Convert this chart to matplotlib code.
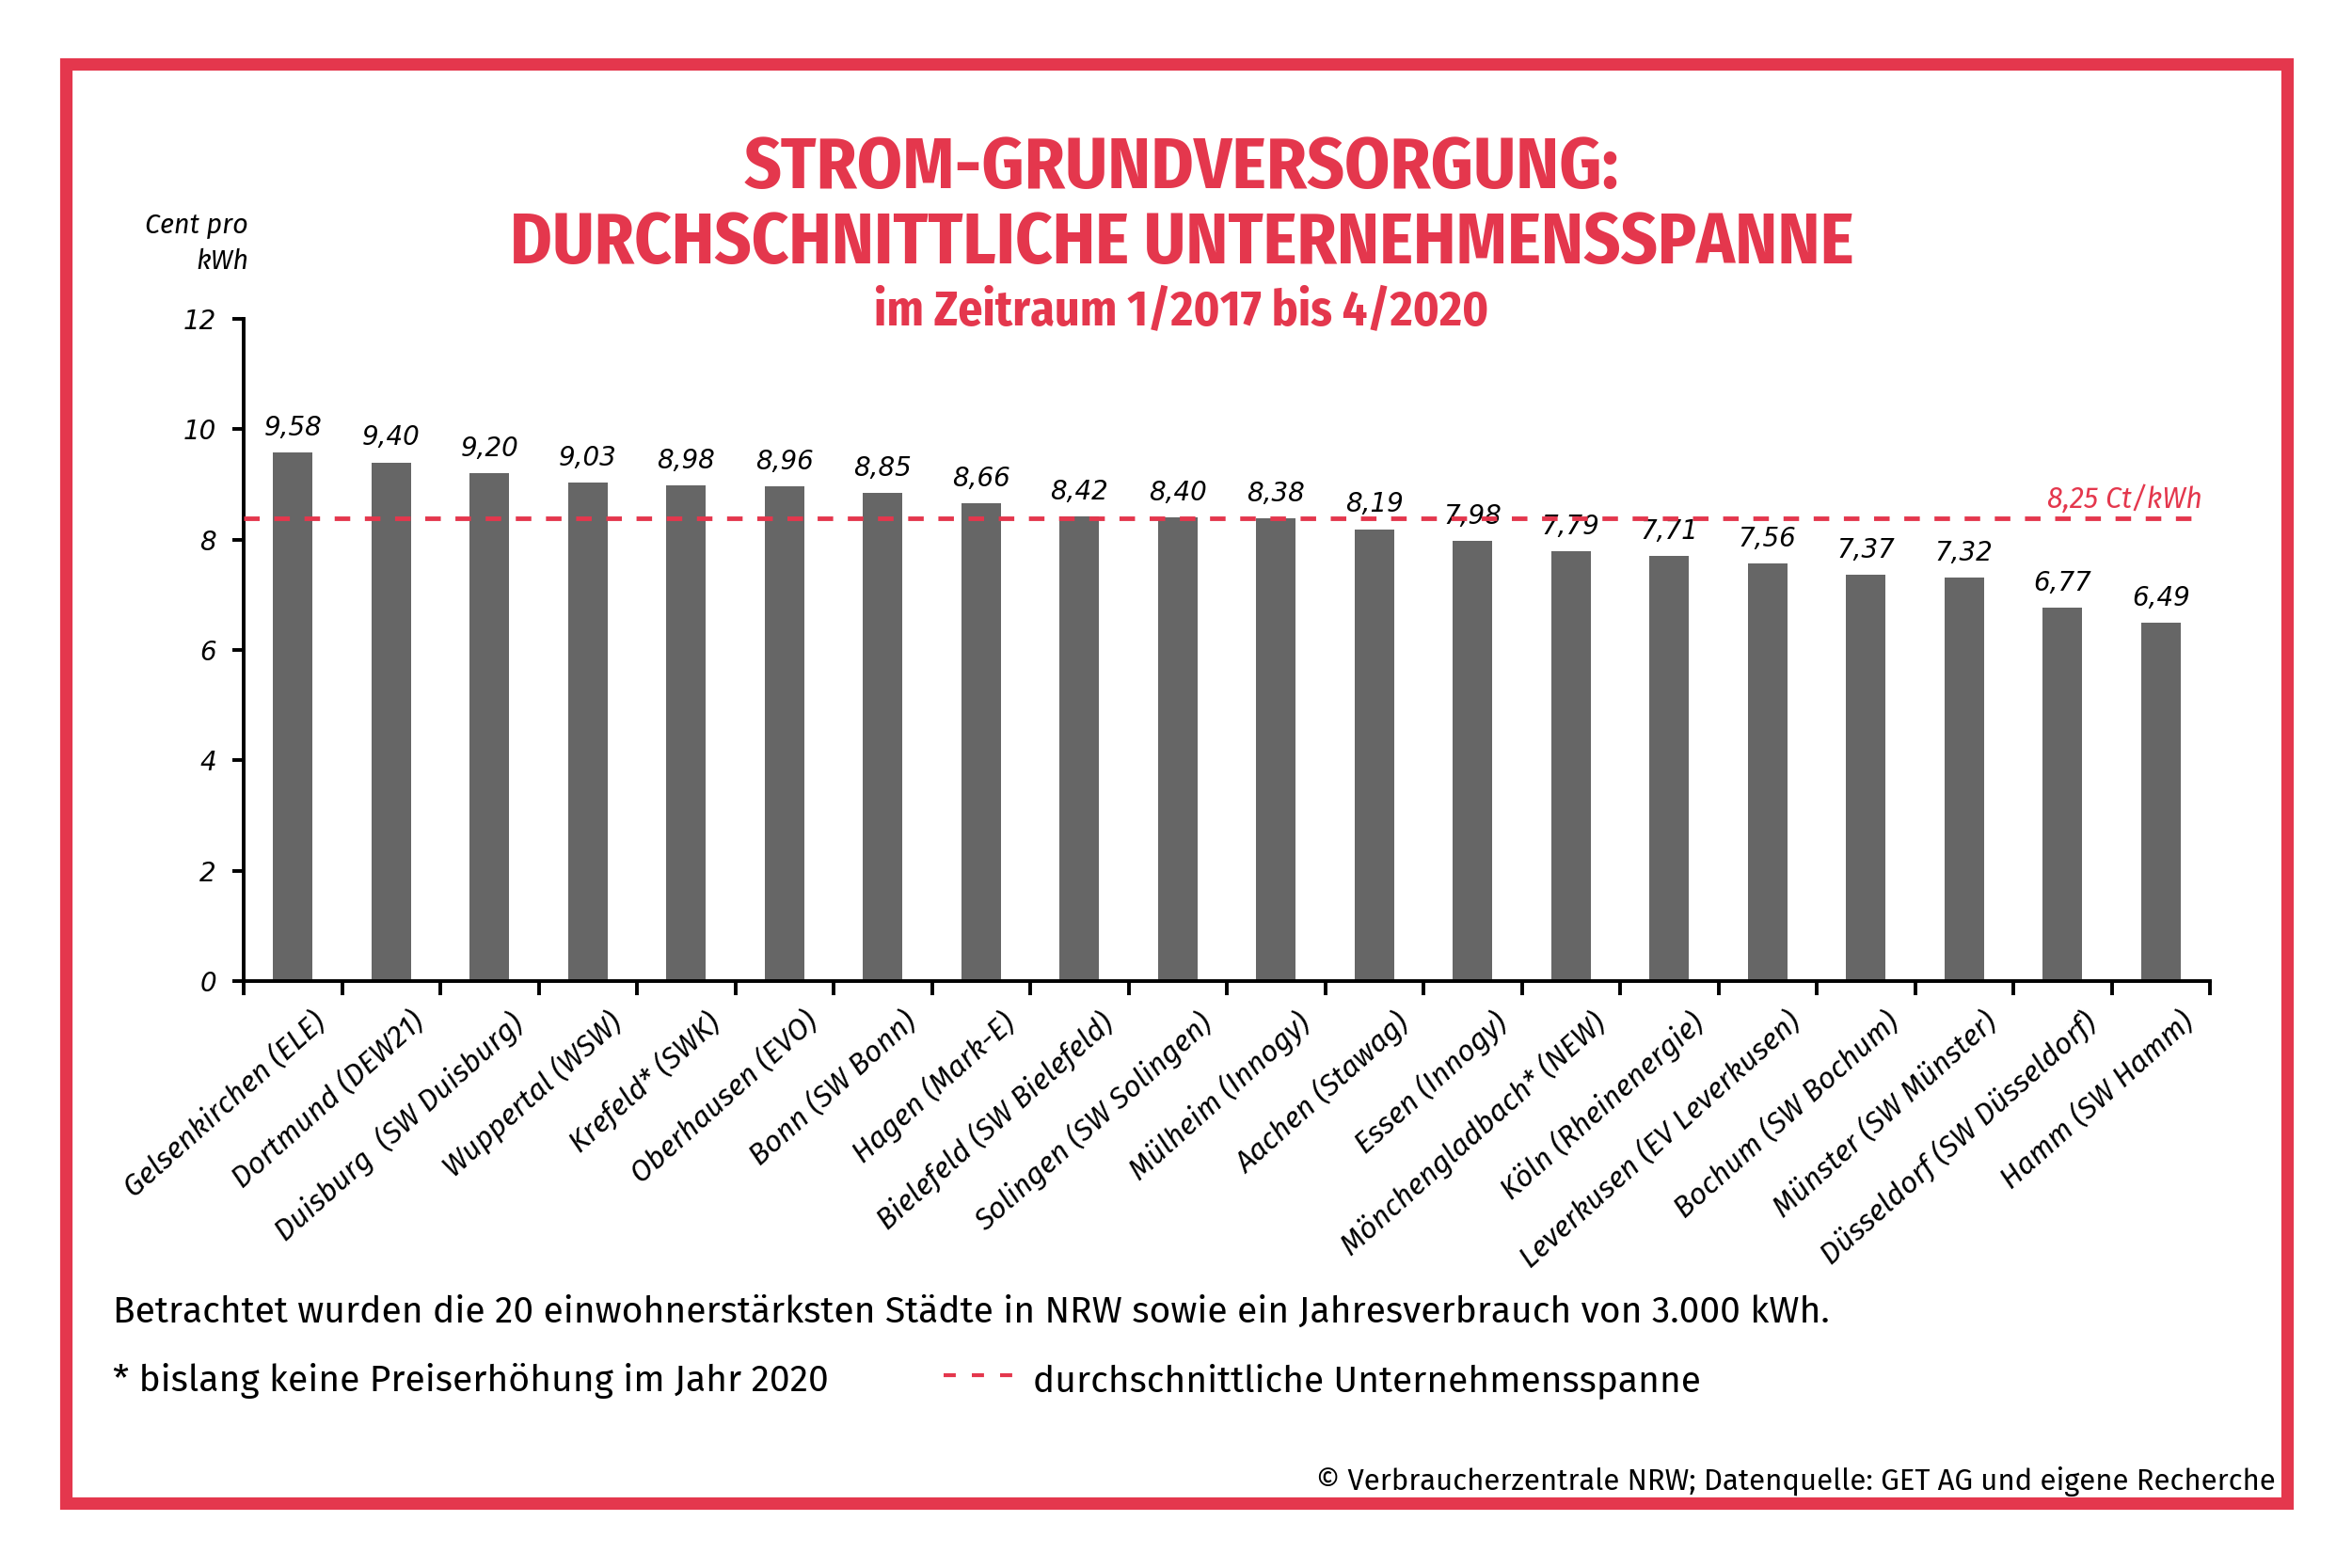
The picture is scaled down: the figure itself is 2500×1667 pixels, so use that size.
import matplotlib
matplotlib.use("Agg")
import matplotlib.pyplot as plt
from matplotlib import font_manager as fm
from matplotlib.lines import Line2D
from matplotlib.patches import Rectangle

# ---------------- data ----------------
categories = [
    "Gelsenkirchen (ELE)", "Dortmund (DEW21)", "Duisburg  (SW Duisburg)",
    "Wuppertal (WSW)", "Krefeld* (SWK)", "Oberhausen (EVO)", "Bonn (SW Bonn)",
    "Hagen (Mark-E)", "Bielefeld (SW Bielefeld)", "Solingen (SW Solingen)",
    "Mülheim (Innogy)", "Aachen (Stawag)", "Essen (Innogy)",
    "Mönchengladbach* (NEW)", "Köln (Rheinenergie)", "Leverkusen (EV Leverkusen)",
    "Bochum (SW Bochum)", "Münster (SW Münster)", "Düsseldorf (SW Düsseldorf)",
    "Hamm (SW Hamm)",
]
values = [9.58, 9.40, 9.20, 9.03, 8.98, 8.96, 8.85, 8.66, 8.42, 8.40,
          8.38, 8.19, 7.98, 7.79, 7.71, 7.56, 7.37, 7.32, 6.77, 6.49]
avg_line_value = 8.38
avg_label = "8,25 Ct/kWh"
yticks = [0, 2, 4, 6, 8, 10, 12]

title1 = "STROM-GRUNDVERSORGUNG:"
title2 = "DURCHSCHNITTLICHE UNTERNEHMENSSPANNE"
subtitle = "im Zeitraum 1/2017 bis 4/2020"
note1 = "Betrachtet wurden die 20 einwohnerstärksten Städte in NRW sowie ein Jahresverbrauch von 3.000 kWh."
note2 = "* bislang keine Preiserhöhung im Jahr 2020"
note3 = "durchschnittliche Unternehmensspanne"
source = "© Verbraucherzentrale NRW; Datenquelle: GET AG und eigene Recherche"

RED = "#E4374D"
BAR = "#666666"

installed = {f.name for f in fm.fontManager.ttflist}


def pick(*names):
    for n in names:
        if n in installed:
            return n
    return "DejaVu Sans"


F_TITLE = pick("Fira Sans Condensed", "Fira Sans Extra Condensed", "Roboto Condensed",
               "Archivo Narrow", "Roboto")
F_BODY = pick("Fira Sans", "Open Sans")
F_NUM = "DejaVu Sans"

W, H = 2500, 1667
fig = plt.figure(figsize=(W / 100, H / 100), dpi=100)
renderer = fig.canvas.get_renderer()


def fx(px):
    return px / W


def fy(py):
    return 1 - py / H


def fit(t, target_px):
    bb = t.get_window_extent(renderer)
    t.set_fontsize(t.get_fontsize() * target_px / bb.width)


# frame
fig.add_artist(Rectangle((fx(70), fy(1598)), fx(2431) - fx(70), fy(68) - fy(1598),
                         transform=fig.transFigure, fill=False, edgecolor=RED, linewidth=9.5))

# axes
ax = fig.add_axes([fx(259), fy(1043), fx(2349) - fx(259), fy(339) - fy(1043)])
x = list(range(len(values)))
ax.bar(x, values, width=0.4, color=BAR, zorder=2)
ax.set_xlim(-0.5, len(values) - 0.5)
ax.set_ylim(0, 12)
for s in ("top", "right"):
    ax.spines[s].set_visible(False)
for s in ("left", "bottom"):
    ax.spines[s].set_linewidth(2.8)
ax.set_yticks(yticks)
ax.set_yticklabels([str(v) for v in yticks], fontstyle="italic", fontsize=20, family=F_NUM)
ax.tick_params(axis="y", length=9, width=2.8, pad=12, direction="out")
ax.set_xticks([i - 0.5 for i in range(len(values) + 1)])
ax.set_xticklabels([])
ax.tick_params(axis="x", length=11, width=2.8, direction="out")

# category labels (size fitted to the reference label length)
probe = fig.text(0, 0, categories[0], fontsize=20, fontstyle="italic", family=F_BODY)
fit(probe, 277)
lab_size = probe.get_fontsize()
probe.remove()
for i, c in enumerate(categories):
    ax.annotate(c, (i, 0), xytext=(15, -20), textcoords="offset points",
                rotation=42, rotation_mode="anchor", ha="right", va="top",
                fontsize=lab_size, fontstyle="italic", family=F_BODY)

for i, v in enumerate(values):
    ax.annotate(f"{v:.2f}".replace(".", ","), (i, v), xytext=(0, 13),
                textcoords="offset points", ha="center", va="baseline",
                fontsize=20, fontstyle="italic", family=F_NUM)
ax.plot([-0.5, 19.42], [avg_line_value, avg_line_value], color=RED, lw=3.5,
        ls=(0, (3.4, 3.2)), zorder=3, clip_on=False)
t = ax.annotate(avg_label, (19.42, avg_line_value), xytext=(0, 8), textcoords="offset points",
                ha="right", va="baseline", color=RED, fontsize=20, fontstyle="italic",
                family=F_BODY)
fit(t, 165)

# y-axis unit label
t = fig.text(fx(264), fy(248), "Cent pro", ha="right", va="baseline", fontsize=20,
             fontstyle="italic", family=F_BODY)
fit(t, 110)
fig.text(fx(264), fy(286), "kWh", ha="right", va="baseline", fontsize=t.get_fontsize(),
         fontstyle="italic", family=F_BODY)

# titles
t1 = fig.text(fx(1256), fy(200), title1, ha="center", va="baseline", fontsize=52,
              fontweight="bold", color=RED, family=F_TITLE)
fit(t1, 931)
t2 = fig.text(fx(1256), fy(280), title2, ha="center", va="baseline", fontsize=52,
              fontweight="bold", color=RED, family=F_TITLE)
fit(t2, 1432)
t3 = fig.text(fx(1256), fy(346), subtitle, ha="center", va="baseline", fontsize=33,
              fontweight="bold", color=RED, family=F_TITLE)
fit(t3, 653)

# notes
t = fig.text(fx(120), fy(1406), note1, ha="left", va="baseline", fontsize=27, family=F_BODY)
fit(t, 1824)
t = fig.text(fx(120), fy(1479), note2, ha="left", va="baseline", fontsize=27, family=F_BODY)
fit(t, 760)
fig.add_artist(Line2D([fx(1003), fx(1076)], [fy(1462), fy(1462)], transform=fig.transFigure,
                      color=RED, lw=3, ls=(0, (3.1, 4.1))))
t = fig.text(fx(1098), fy(1479), note3, ha="left", va="baseline", fontsize=27, family=F_BODY)
fit(t, 708)
t = fig.text(fx(2419), fy(1584), source, ha="right", va="baseline", fontsize=21.5, family=F_BODY)
fit(t, 1019)

fig.savefig("out.png", dpi=100)
